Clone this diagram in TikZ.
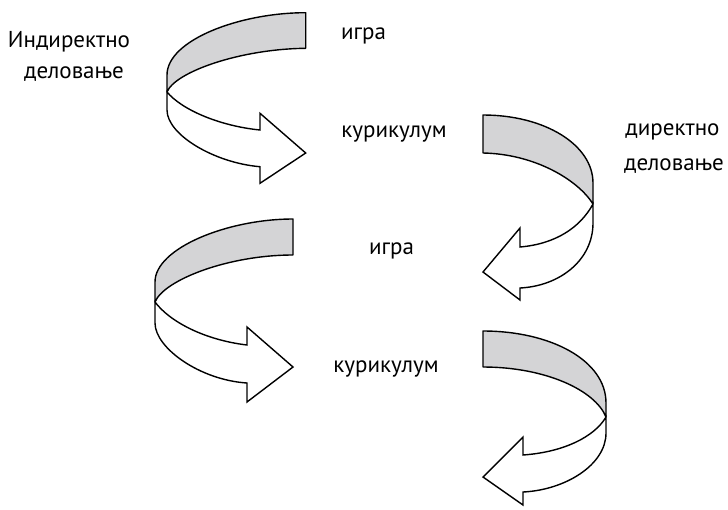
\documentclass[tikz,border=0pt]{standalone}
\usepackage{fontspec}
\setmainfont{PT Sans}
\definecolor{bandgray}{RGB}{212,212,214}
\begin{document}
\begin{tikzpicture}[x=1pt,y=-1pt,
  band/.style={fill=bandgray, draw=black, line width=1.4pt, line join=round},
  face/.style={fill=white, draw=black, line width=1.4pt, line join=miter},
  lbl/.style={inner sep=0pt, anchor=base, font=\fontsize{23}{27}\selectfont}]
\useasboundingbox[fill=white] (0,0) rectangle (728,509);

% upper left turn: ribbon bending round to the right
\path[band] (305.7,12.7) .. controls (240,12.7) and (167,40) .. (167,75)
  -- (167,92) .. controls (175,72) and (240,49) .. (305.7,48.3) -- cycle;
\path[face] (167,92) .. controls (182,110) and (220,126) .. (260,130)
  -- (260,113.3) -- (305.7,153) -- (260,183.3) -- (260,166.7)
  .. controls (215,163) and (167,135) .. (167,110) -- cycle;

% upper right turn: ribbon bending round to the left
\path[band] (483,115) .. controls (545,115) and (593,145) .. (593,183)
  -- (593,204) .. controls (578,180) and (535,154) .. (483,153) -- cycle;
\path[face] (593,204) .. controls (580,228) and (555,244) .. (520,247)
  -- (520,228) -- (483,272) -- (520,300) -- (520,288)
  .. controls (560,286) and (593,260) .. (593,223) -- cycle;

% lower left turn
\path[band] (293,219) .. controls (228,219) and (155,248) .. (155,282)
  -- (155,302) .. controls (164,280) and (228,255) .. (293,255) -- cycle;
\path[face] (155,302) .. controls (170,322) and (205,340) .. (247,345)
  -- (247,327) -- (293,367) -- (247,402) -- (247,383)
  .. controls (200,380) and (155,348) .. (155,323) -- cycle;

% lower right turn
\path[band] (483,331) .. controls (550,331) and (606,360) .. (606,403)
  -- (606,417) .. controls (595,390) and (545,367) .. (483,367) -- cycle;
\path[face] (606,417) .. controls (595,436) and (565,452) .. (523,455)
  -- (523,437) -- (483,477) -- (523,505) -- (523,492)
  .. controls (565,490) and (606,465) .. (606,433) -- cycle;

% labels
\node[lbl] (ind1) at (69,47) {Индиректно};
\node[lbl] (ind2) at (74,78) {деловање};
\node[lbl] (igra1) at (363.5,39) {игра};
\node[lbl] (kur1) at (394,137) {курикулум};
\node[lbl] (dir1) at (672.5,135) {директно};
\node[lbl] (dir2) at (674,170) {деловање};
\node[lbl] (igra2) at (391.5,254) {игра};
\node[lbl] (kur2) at (386,372) {курикулум};
\end{tikzpicture}
\end{document}
